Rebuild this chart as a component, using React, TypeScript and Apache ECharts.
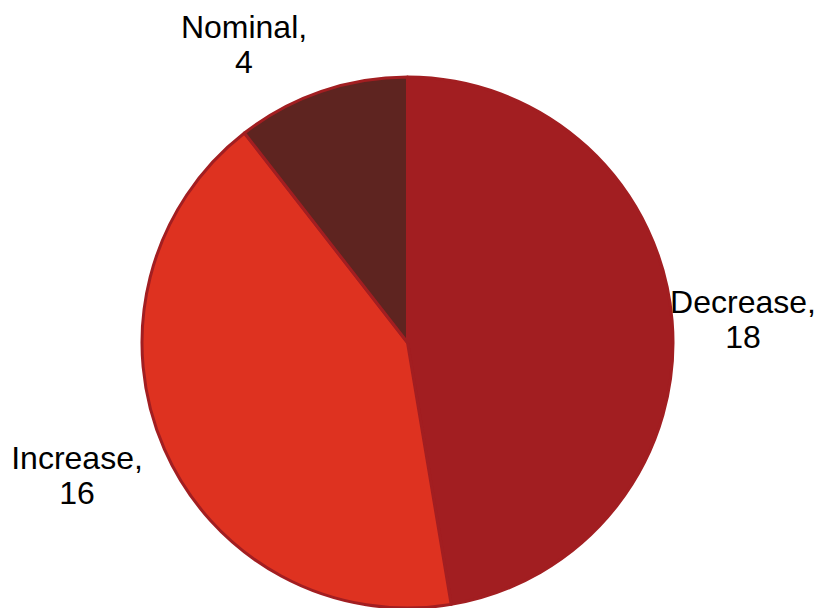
import React, { useEffect, useRef } from "react";
import * as echarts from "echarts";

const categories = ["Decrease", "Increase", "Nominal"];
const values = [18, 16, 4];
const colors = ["#A21E21", "#DE3220", "#5E2420"];

// label anchor positions (layout only)
const labelPos = [
  { x: 743, y: 319 },
  { x: 77, y: 475 },
  { x: 244, y: 44 },
];

export default function App() {
  const ref = useRef<HTMLDivElement>(null);
  useEffect(() => {
    if (!ref.current) return;
    const chart = echarts.init(ref.current, null, { renderer: "svg" });
    chart.setOption({
      animation: false,
      backgroundColor: "#ffffff",
      series: [
        {
          type: "pie",
          center: [407.5, 342.5],
          radius: 265.5,
          startAngle: 90,
          clockwise: true,
          avoidLabelOverlap: false,
          data: categories.map((name, i) => ({
            name,
            value: values[i],
            itemStyle: { color: colors[i] },
          })),
          itemStyle: { borderColor: "#A21E21", borderWidth: 3 },
          label: {
            show: true,
            position: "outside",
            formatter: "{b},\n{c}",
            fontFamily: "Liberation Sans, Arial, sans-serif",
            fontSize: 32,
            lineHeight: 35,
            color: "#000000",
            align: "center",
          },
          labelLine: { show: false },
          labelLayout: (params: any) => ({
            x: labelPos[params.dataIndex].x,
            y: labelPos[params.dataIndex].y,
            align: "center",
            verticalAlign: "middle",
          }),
          emphasis: { disabled: true },
        },
      ],
    });
    return () => chart.dispose();
  }, []);
  return <div ref={ref} style={{ width: 820, height: 608, position: "absolute", left: 0, top: 0 }} />;
}
